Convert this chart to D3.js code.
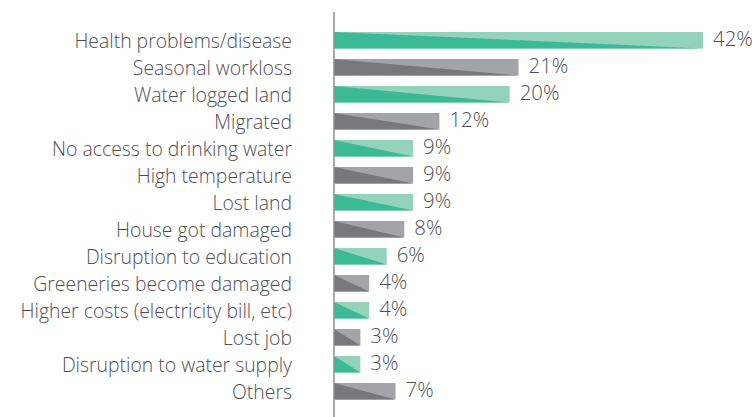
<!DOCTYPE html>
<html>
<head>
<meta charset="utf-8">
<script src="https://cdn.jsdelivr.net/npm/d3@7"></script>
<style>
  html, body { margin: 0; padding: 0; background: #fff; }
  svg { display: block; }
  text { font-family: "Open Sans", sans-serif; font-weight: 300; fill: #4f4f53; }
</style>
</head>
<body>
<svg id="chart" width="756" height="417"></svg>
<script>
// Reported impacts, share of respondents (%)
const categories = [
  "Health problems/disease",
  "Seasonal workloss",
  "Water logged land",
  "Migrated",
  "No access to drinking water",
  "High temperature",
  "Lost land",
  "House got damaged",
  "Disruption to education",
  "Greeneries become damaged",
  "Higher costs (electricity bill, etc)",
  "Lost job",
  "Disruption to water supply",
  "Others"
];
const values = [42, 21, 20, 12, 9, 9, 9, 8, 6, 4, 4, 3, 3, 7];
const valueLabels = ["42%", "21%", "20%", "12%", "9%", "9%", "9%", "8%", "6%", "4%", "4%", "3%", "3%", "7%"];

// Alternating two-tone palettes: [dark, light]
const palettes = [
  ["#3bba95", "#93d3bb"],
  ["#77777c", "#a3a4a8"]
];

const svg = d3.select("#chart");
const axisX = 334;

const x = d3.scaleLinear().domain([0, 42]).range([axisX, 703]);
const y = d3.scaleBand()
  .domain(categories)
  .range([26.75, 404.75])
  .paddingInner(0.389)
  .paddingOuter(0.1945);

const rows = categories.map((c, i) => ({ c, v: values[i], label: valueLabels[i], i }));

const bars = svg.append("g").selectAll("g").data(rows).join("g");

// Light upper-right triangle (fills the full bar first)
bars.append("rect")
  .attr("x", d => x(0))
  .attr("y", d => y(d.c))
  .attr("width", d => x(d.v) - x(0))
  .attr("height", y.bandwidth())
  .attr("fill", d => palettes[d.i % 2][1]);

// Dark lower-left triangle
bars.append("path")
  .attr("d", d => {
    const x0 = x(0), x1 = x(d.v), t = y(d.c), b = t + y.bandwidth();
    return `M${x0},${t}L${x1},${b}L${x0},${b}Z`;
  })
  .attr("fill", d => palettes[d.i % 2][0]);

// Category labels
svg.append("g").selectAll("text").data(rows).join("text")
  .attr("x", 292)
  .attr("y", d => y(d.c) + y.bandwidth() / 2 + 7.8)
  .attr("text-anchor", "end")
  .attr("font-size", 19.4)
  .text(d => d.c);

// Value labels
svg.append("g").selectAll("text").data(rows).join("text")
  .attr("x", d => x(d.v) + 10)
  .attr("y", d => y(d.c) + y.bandwidth() / 2 + 6)
  .attr("font-size", 20.4)
  .text(d => d.label);

// Vertical baseline axis
svg.append("line")
  .attr("x1", axisX).attr("x2", axisX)
  .attr("y1", 12).attr("y2", 417)
  .attr("stroke", "#8e8e92")
  .attr("stroke-width", 1.5);
</script>
</body>
</html>
